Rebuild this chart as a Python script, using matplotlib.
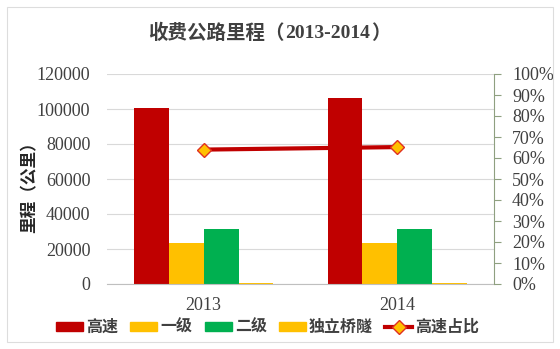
import matplotlib.pyplot as plt
from matplotlib.patches import Rectangle
from matplotlib.lines import Line2D

plt.rcParams['font.family'] = ['Noto Sans CJK SC', 'DejaVu Sans']

# data
years = ['2013', '2014']
highway = [100400, 106500]      # 高速
grade1 = [23400, 23400]         # 一级
grade2 = [31400, 31400]         # 二级
bridges = [700, 700]            # 独立桥隧
share = [0.64, 0.652]           # 高速占比

names = ['高速', '一级', '二级', '独立桥隧']
colors = ['#C00000', '#FFC000', '#00B050', '#FFC000']
series = [highway, grade1, grade2, bridges]

fig = plt.figure(figsize=(5.6, 3.49), dpi=100)
fig.patch.set_facecolor('white')
fig.patches.append(Rectangle((7 / 560, 7 / 349), 546 / 560, 335 / 349,
                             transform=fig.transFigure, fill=False,
                             edgecolor='#dddddd', linewidth=0.8))

ax = fig.add_axes([107 / 560, 65 / 349, 387 / 560, 210 / 349])
x = range(len(years))
w = 0.18
for i, (vals, c) in enumerate(zip(series, colors)):
    ax.bar([k + (i - 1.5) * w for k in x], vals, w, color=c, zorder=2)

ax.set_xlim(-0.5, 1.5)
ax.set_ylim(0, 120000)
ax.set_yticks(range(0, 120001, 20000))
ax.yaxis.grid(True, color='#d9d9d9', linewidth=0.8, zorder=0)
ax.set_axisbelow(True)
for s in ['left', 'right', 'top']:
    ax.spines[s].set_visible(False)
ax.spines['bottom'].set_color('#bfbfbf')
ax.tick_params(axis='y', length=0, labelsize=13, colors='#404040', pad=12)
ax.tick_params(axis='x', length=0, labelsize=13, colors='#404040', pad=9)
ax.set_xticks(list(x))
ax.set_xticklabels(years, fontfamily='Liberation Serif')
for t in ax.get_yticklabels():
    t.set_fontfamily('Liberation Serif')
ax.set_ylabel('里程（公里）', fontsize=12, fontweight='bold', color='#262626')
ax.yaxis.set_label_coords(-0.178, 0.48)

ax2 = ax.twinx()
ax2.plot(list(x), share, color='#C00000', linewidth=3, marker='D', markersize=7,
         markerfacecolor='#FFC000', markeredgecolor='#E03020', zorder=3)
ax2.set_ylim(0, 1)
ax2.set_yticks([i / 10 for i in range(11)])
ax2.set_yticklabels(['%d%%' % (i * 10) for i in range(11)], fontfamily='Liberation Serif')
ax2.tick_params(axis='y', labelsize=13, colors='#404040', length=5, color='#8fa080', pad=8)
for s in ['left', 'top', 'bottom']:
    ax2.spines[s].set_visible(False)
ax2.spines['right'].set_color('#8fa080')

# title: Chinese part in CJK font, years in serif
fig.text(0.509, 0.905, '收费公路里程（', fontsize=14, fontweight='bold', color='#404040',
         ha='right', va='center')
fig.text(0.509, 0.905, '2013-2014', fontsize=14, fontweight='bold', color='#404040',
         ha='left', va='center', fontfamily='Liberation Serif')
fig.text(0.662, 0.905, '）', fontsize=14, fontweight='bold', color='#404040',
         ha='left', va='center')

handles = [Rectangle((0, 0), 1, 1, color=c) for c in colors]
handles.append(Line2D([], [], color='#C00000', linewidth=3, marker='D', markersize=7,
                      markerfacecolor='#FFC000', markeredgecolor='#E03020'))
leg = fig.legend(handles, names + ['高速占比'], loc='center', bbox_to_anchor=(0.478, 0.063),
                 ncol=5, frameon=False, fontsize=11.5, handlelength=1.7, handleheight=0.45,
                 columnspacing=0.75, handletextpad=0.2)
for t in leg.get_texts():
    t.set_fontweight('bold')
    t.set_color('#404040')

fig.savefig('out.png', dpi=100)
